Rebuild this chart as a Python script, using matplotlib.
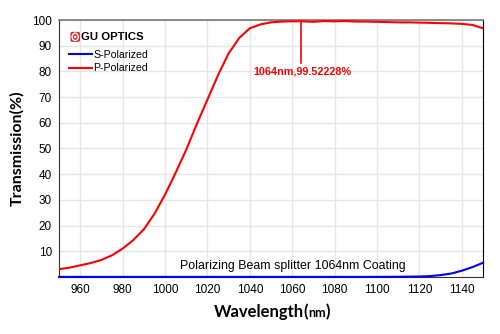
import matplotlib.pyplot as plt
from matplotlib.offsetbox import TextArea, HPacker, AnchoredOffsetbox
from matplotlib.patches import Circle, FancyBboxPatch

plt.rcParams['font.family'] = ['Liberation Sans', 'DejaVu Sans']

# P-polarized transmission (%)
p_wl = [950, 955, 960, 965, 970, 975, 980, 985, 990, 995, 1000, 1005, 1010,
        1015, 1020, 1025, 1030, 1035, 1040, 1045, 1050, 1055, 1060, 1064,
        1070, 1075, 1080, 1085, 1090, 1095, 1100, 1105, 1110, 1115, 1120,
        1125, 1130, 1135, 1140, 1145, 1150]
p_val = [3.0, 3.6, 4.5, 5.4, 6.6, 8.4, 11.0, 14.3, 18.5, 24.5, 32.0, 40.5, 49.5,
         59.5, 69.0, 78.5, 87.0, 93.0, 96.8, 98.3, 99.1, 99.4, 99.5, 99.52228,
         99.3, 99.6, 99.5, 99.6, 99.4, 99.4, 99.3, 99.2, 99.1, 99.1, 99.0,
         98.9, 98.8, 98.7, 98.5, 98.1, 96.8]

# S-polarized transmission (%)
s_wl = [950, 1000, 1050, 1100, 1110, 1120, 1125, 1130, 1135, 1140, 1145, 1150]
s_val = [0.0, 0.0, 0.0, 0.0, 0.05, 0.15, 0.3, 0.7, 1.3, 2.4, 3.8, 5.5]

peak_wl = 1064
peak_val = 99.52228

fig = plt.figure(figsize=(5, 3.34), dpi=100)
ax = fig.add_axes([0.118, 0.171, 0.848, 0.769])

ax.plot(p_wl, p_val, color='#ff0000', lw=1.5, label='P-Polarized', zorder=3)
ax.plot(s_wl, s_val, color='#0000ff', lw=1.5, label='S-Polarized', zorder=3,
        clip_on=False)

ax.set_xlim(950, 1150)
ax.set_ylim(0, 100)
ax.set_xticks(range(960, 1141, 20))
ax.set_yticks(range(10, 101, 10))
ax.tick_params(length=0, labelsize=8.5, pad=5)
ax.grid(True, color='#e6e6e6', lw=1)
ax.set_axisbelow(True)
for side in ['left', 'bottom']:
    ax.spines[side].set_color('#333333')
ax.spines['top'].set_color('#777777')
ax.spines['right'].set_color('black')
ax.spines['top'].set_linewidth(1.2)

# marker at 1064 nm
ax.plot([peak_wl, peak_wl], [peak_val, 83.3], color='#ff0000', lw=1.2, zorder=3)
ax.text(1041.5, 79.8, f'{peak_wl}nm,{peak_val}%', color='#ff0000',
        fontsize=7.8, fontweight='bold', va='center', ha='left')

ax.text(1060.4, 4.3, 'Polarizing Beam splitter 1064nm Coating', fontsize=8.9,
        ha='center', va='center')

# brand logo + legend
ax.add_patch(FancyBboxPatch((955.4, 91.5), 4.5, 3.9, boxstyle='round,pad=0,rounding_size=0.8',
                            fc='#d8262e', ec='none', transform=ax.transData, zorder=4))
ax.add_patch(Circle((957.65, 93.45), 1.45, fc='none', ec='white', lw=1.0, zorder=5))
ax.add_patch(Circle((957.65, 93.45), 0.55, fc='white', ec='none', zorder=5))
ax.text(960.2, 93.5, 'GU OPTICS', fontsize=8.2, fontweight='bold', va='center', ha='left')

handles, labels = ax.get_legend_handles_labels()
ax.legend(handles[::-1], labels[::-1], loc='upper left', bbox_to_anchor=(0.0, 0.92),
          frameon=False, fontsize=7.6, handlelength=2.2, handletextpad=0.15,
          labelspacing=0.3, borderaxespad=0.5)

ax.set_ylabel('Transmission(%)', family='Lato', fontweight='bold', fontsize=11.5, labelpad=6)

xlabel = HPacker(children=[
    TextArea('Wavelength', textprops=dict(family='Lato', fontweight='bold', fontsize=12)),
    TextArea('(', textprops=dict(family='Lato', fontweight='bold', fontsize=12)),
    TextArea('nm', textprops=dict(family='Lato', fontweight='bold', fontsize=9)),
    TextArea(')', textprops=dict(family='Lato', fontweight='bold', fontsize=12)),
], align='baseline', pad=0, sep=0)
anchored = AnchoredOffsetbox(loc='center', child=xlabel, frameon=False, pad=0,
                             bbox_to_anchor=(0.544, 0.065), bbox_transform=fig.transFigure,
                             borderpad=0)
fig.add_artist(anchored)

fig.savefig('out.png', dpi=100)
